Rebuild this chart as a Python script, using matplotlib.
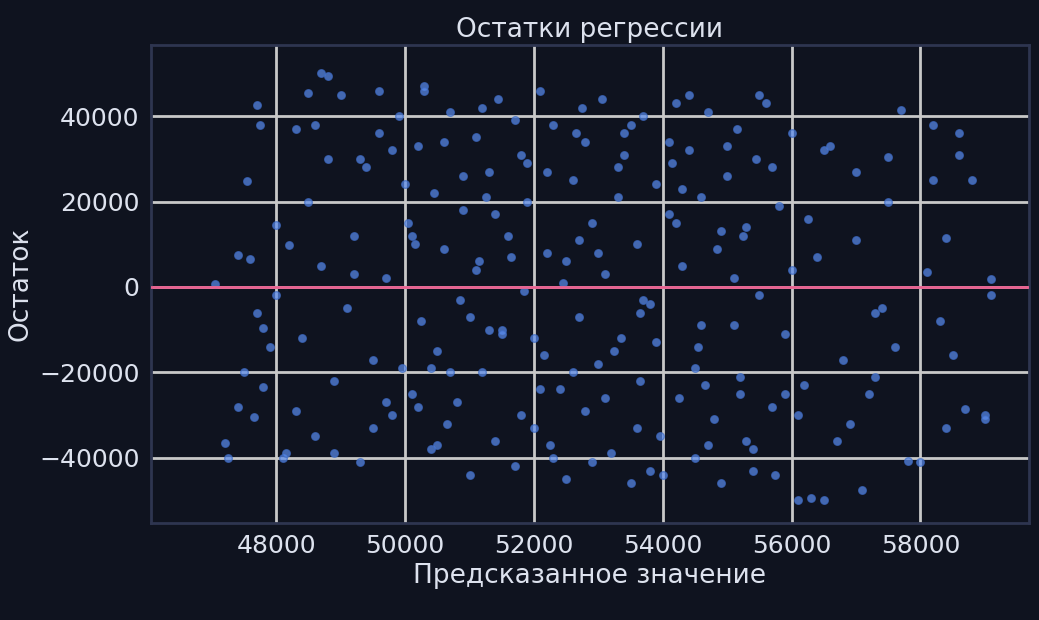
import matplotlib.pyplot as plt

# predicted values and residuals (a subset of points)
predicted = [
    47050, 47200, 47250, 47400, 47400, 47500, 47550, 47600, 47650, 47700, 47700, 47750, 47800, 47800,
    47900, 48000, 48000, 48100, 48150, 48200, 48300, 48300, 48500, 48600, 48700, 48800,
    58000, 58100, 58200, 58200, 58300, 58400, 58400, 58500, 58600, 58600, 58700, 58800, 59000, 59000,
    59100, 59100, 57800, 57700, 57600, 57500, 57400, 57300, 57200, 57100, 57000, 56900, 56500, 56300, 56100,
    48400, 48500, 48600, 48700, 48800, 48900, 49000, 49100, 49200, 49300, 49400, 49500, 49600, 49700,
    49800, 49900, 49950, 50050, 50100, 50200, 50250, 50300, 50400, 50450, 50500, 50600, 50700, 50800,
    50850, 50900, 51000, 51100, 51150, 51200, 51300, 51400, 51450, 51500, 51600, 51700, 51800, 51850,
    51900, 52000, 52100, 52150, 52200, 52300, 52400, 52450, 52500, 52600, 52700, 52750, 52800, 52900,
    53000, 53050, 53100, 53200, 53300, 53350, 53400, 53500, 53600, 53650, 53700, 53800, 53900, 53950,
    54000, 54100, 54200, 54250, 54300, 54400, 54500, 54550, 54600, 54700, 54800, 54850, 54900, 55000,
    55100, 55150, 55200, 55300, 55400, 55450, 55500, 55600, 55700, 55800, 55900, 56000, 56200, 56400,
    56600, 56800, 57000, 57300, 57500,
    49300, 49700, 50100, 50500, 50900, 51300, 51700, 52100, 52500, 52900, 53300, 53700, 54100, 54500,
    54900, 55300, 55700, 56100, 56500, 49500, 50000, 50300, 50700, 51100, 51500, 51900, 52300, 52700,
    53100, 53500, 53900, 54300, 54700, 55100, 55500, 55900, 50200, 50600, 51000, 51400, 51800, 52200,
    52600, 53000, 53400, 53800, 54200, 54600, 55000, 55400, 49800, 50400, 51200, 52000, 52800, 53600,
    54400, 55200, 56000, 56700, 48900, 49200, 49600, 50150, 50650, 51250, 51650, 52250, 52650, 53250,
    53650, 54150, 54650, 55250, 55750, 56250,
]
residual = [
    800, -36500, -40000, -28000, 7500, -20000, 24800, 6500, -30500, -6000, 42500, 38000, -9500, -23500,
    -14000, -2000, 14500, -40000, -39000, 9800, -29000, 37000, 45500, 38000, 50000, 49500,
    -41000, 3500, 25000, 38000, -8000, 11500, -33000, -16000, 36000, 31000, -28500, 25000, -30000, -31000,
    1800, -2000, -40800, 41500, -14000, 30500, -5000, -21000, -25000, -47500, 11000, -32000, -50000, -49500, -50000,
    -12000, 20000, -35000, 5000, 30000, -22000, 45000, -5000, 12000, -41000, 28000, -17000, 36000, 2000,
    -30000, 40000, -19000, 15000, -25000, 33000, -8000, 47000, -38000, 22000, -15000, 9000, 41000, -27000,
    -3000, 18000, -44000, 35000, 6000, -20000, 27000, -36000, 44000, -10000, 12000, -42000, 31000, -1000,
    20000, -33000, 46000, -16000, 8000, 38000, -24000, 1000, -45000, 25000, -7000, 42000, -29000, 15000,
    -18000, 44000, 3000, -39000, 28000, -12000, 36000, -46000, 10000, -22000, 40000, -4000, 24000, -35000,
    -44000, 17000, 43000, -26000, 5000, 32000, -40000, -14000, 21000, 41000, -31000, 9000, -46000, 26000,
    -9000, 37000, -21000, 14000, -43000, 30000, -2000, 43000, -28000, 19000, -11000, 36000, -23000, 7000,
    33000, -17000, 27000, -6000, 20000,
    30000, -27000, 12000, -37000, 26000, -10000, 39000, -24000, 6000, -41000, 21000, -3000, 34000, -19000,
    13000, -36000, 28000, -30000, 32000, -33000, 24000, 46000, -20000, 4000, -11000, 29000, -40000, 11000,
    -26000, 38000, -13000, 23000, -37000, 2000, 45000, -25000, -28000, 34000, -7000, 17000, -30000, 27000,
    -20000, 8000, 31000, -43000, 15000, -9000, 33000, -38000, 32000, -19000, 42000, -12000, 34000, -33000,
    45000, -25000, 4000, -36000, -39000, 3000, 46000, 10000, -32000, 21000, 7000, -37000, 36000, -15000,
    -6000, 29000, -23000, 12000, -44000, 16000,
]

bg = '#0f131f'
fig, ax = plt.subplots(figsize=(10.39, 6.2), dpi=100)
fig.patch.set_facecolor(bg)
ax.set_facecolor(bg)
fig.subplots_adjust(left=0.145, right=0.99, top=0.927, bottom=0.157)

ax.grid(True, color='#c8c8c8', linewidth=2, zorder=0)
ax.set_axisbelow(True)
ax.scatter(predicted, residual, s=30, color='#5b8def', alpha=0.7,
           edgecolors='#3f6cc4', linewidths=1.0, zorder=2)
ax.axhline(0, color='#e8608f', linewidth=2, zorder=3)

ax.set_xlim(46050, 59680)
ax.set_ylim(-55200, 56600)
ax.set_xticks(range(48000, 58001, 2000))
ax.set_yticks(range(-40000, 40001, 20000))
ax.set_yticklabels(['\u221240000', '\u221220000', '0', '20000', '40000'])

txt = '#dde2ee'
ax.tick_params(colors=txt, labelsize=18, length=0, pad=8)
for s in ax.spines.values():
    s.set_color('#2e3550')
    s.set_linewidth(2)
ax.set_title('Остатки регрессии', color=txt, fontsize=19)
ax.set_xlabel('Предсказанное значение', color=txt, fontsize=19)
ax.set_ylabel('Остаток', color=txt, fontsize=19)

fig.savefig('out.png', dpi=100, facecolor=bg)
